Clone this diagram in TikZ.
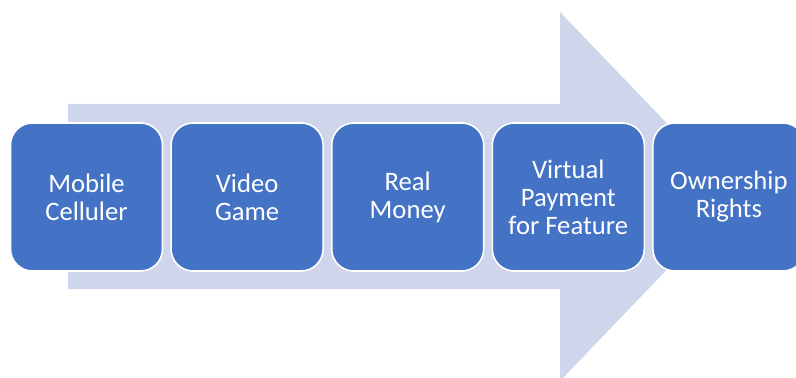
\documentclass[tikz,border=0pt]{standalone}
\usepackage{fontspec}
\setmainfont{Carlito}
\definecolor{boxblue}{HTML}{4472C4}
\definecolor{arrowlav}{HTML}{CFD5EA}
\begin{document}
\begin{tikzpicture}[x=0.75pt,y=-0.75pt,
  stepbox/.style={draw=white, line width=1.2pt, fill=boxblue, rounded corners=16.5pt,
    minimum width=114pt, minimum height=111pt, text=white, align=center,
    font=\fontsize{20}{21}\selectfont, inner sep=0pt}]
\useasboundingbox (0,0) rectangle (796,378);
\begin{scope}
\clip (0,0) rectangle (796,378);
\fill[arrowlav] (68,104) -- (560,104) -- (560,12) -- (737,196.5) -- (560,381) -- (560,289) -- (68,289) -- cycle;
\node[stepbox] (b1) at (86.5,197) {Mobile\\Celluler};
\node[stepbox] (b2) at (247.1,197) {Video\\Game};
\node[stepbox] (b3) at (407.7,197) {Real\\Money};
\node[stepbox] (b4) at (568.3,197) {Virtual\\Payment\\for Feature};
\node[stepbox] (b5) at (728.9,197) {Ownership\\Rights};
\end{scope}
\end{tikzpicture}
\end{document}
